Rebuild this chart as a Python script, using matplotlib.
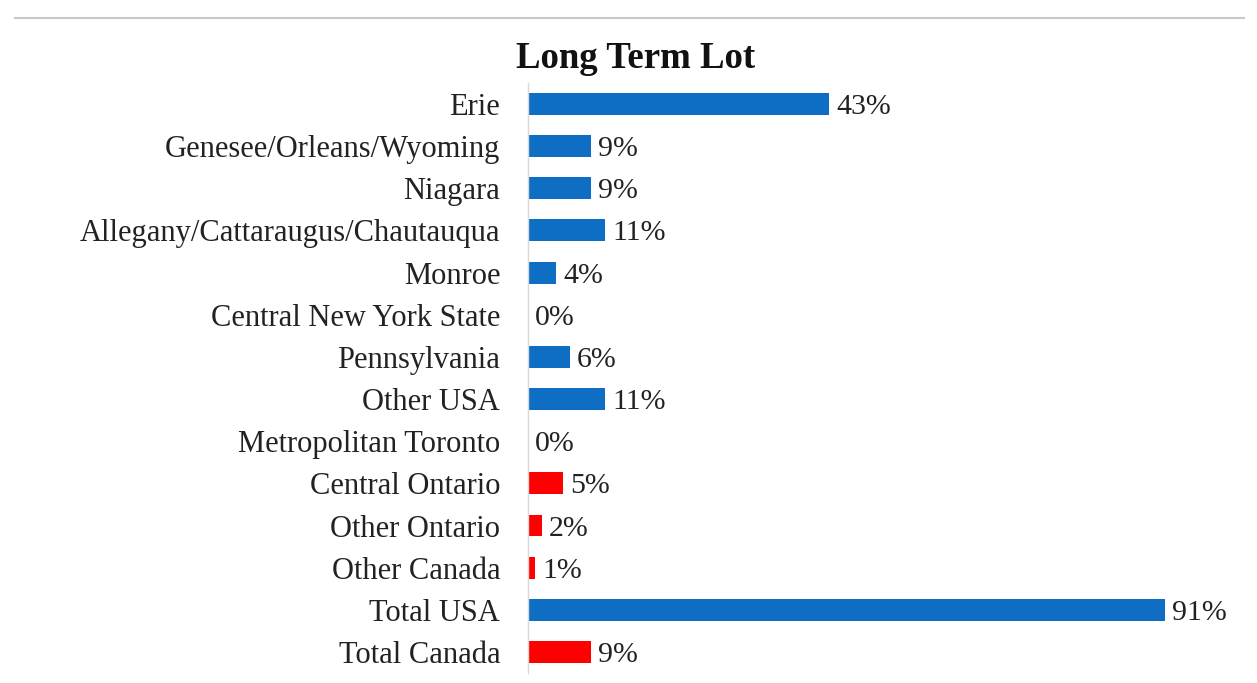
import matplotlib
matplotlib.use("Agg")
import matplotlib.pyplot as plt
from matplotlib.lines import Line2D

# ── Data ───────────────────────────────────────────────
regions = ["Erie", "Genesee/Orleans/Wyoming", "Niagara",
           "Allegany/Cattaraugus/Chautauqua", "Monroe",
           "Central New York State", "Pennsylvania", "Other USA",
           "Metropolitan Toronto", "Central Ontario", "Other Ontario",
           "Other Canada", "Total USA", "Total Canada"]
shares = [43, 9, 9, 11, 4, 0, 6, 11, 0, 5, 2, 1, 91, 9]
country = ["US", "US", "US", "US", "US", "US", "US", "US",
           "CA", "CA", "CA", "CA", "US", "CA"]

BLUE = "#0e6ec4"
RED = "#ff0000"
colors = [BLUE if c == "US" else RED for c in country]

plt.rcParams["font.family"] = ["Liberation Serif", "DejaVu Serif"]

fig = plt.figure(figsize=(12.57, 6.83), dpi=100)
ax = fig.add_axes([0.42, 0.0146, 0.557, 0.864])

ypos = list(range(len(regions)))
bars = ax.barh(ypos, shares, height=0.52, color=colors)

for bar, val in zip(bars, shares):
    ax.text(bar.get_width() + 1.0, bar.get_y() + bar.get_height() / 2,
            f"{val}%", va="center_baseline", ha="left", fontsize=21.5,
            color="#222222")

ax.set_xlim(0, 100)
ax.set_ylim(len(regions) - 0.5, -0.5)
ax.set_yticks(ypos)
ax.set_yticklabels(regions, fontsize=22, color="#222222",
                   va="center_baseline")
ax.tick_params(axis="y", length=0, pad=20)
ax.set_xticks([])

for side in ["top", "right", "bottom"]:
    ax.spines[side].set_visible(False)
ax.spines["left"].set_color("#d9d9d9")
ax.spines["left"].set_linewidth(1.0)

fig.text(0.506, 0.915, "Long Term Lot", ha="center", va="center",
         fontsize=26.5, fontweight="bold", color="#111111")

# thin frame line at the top of the image
fig.add_artist(Line2D([0.012, 0.99], [0.973, 0.973], transform=fig.transFigure,
                      color="#c8c8c8", linewidth=1.5))

fig.savefig("out.png", dpi=100)
